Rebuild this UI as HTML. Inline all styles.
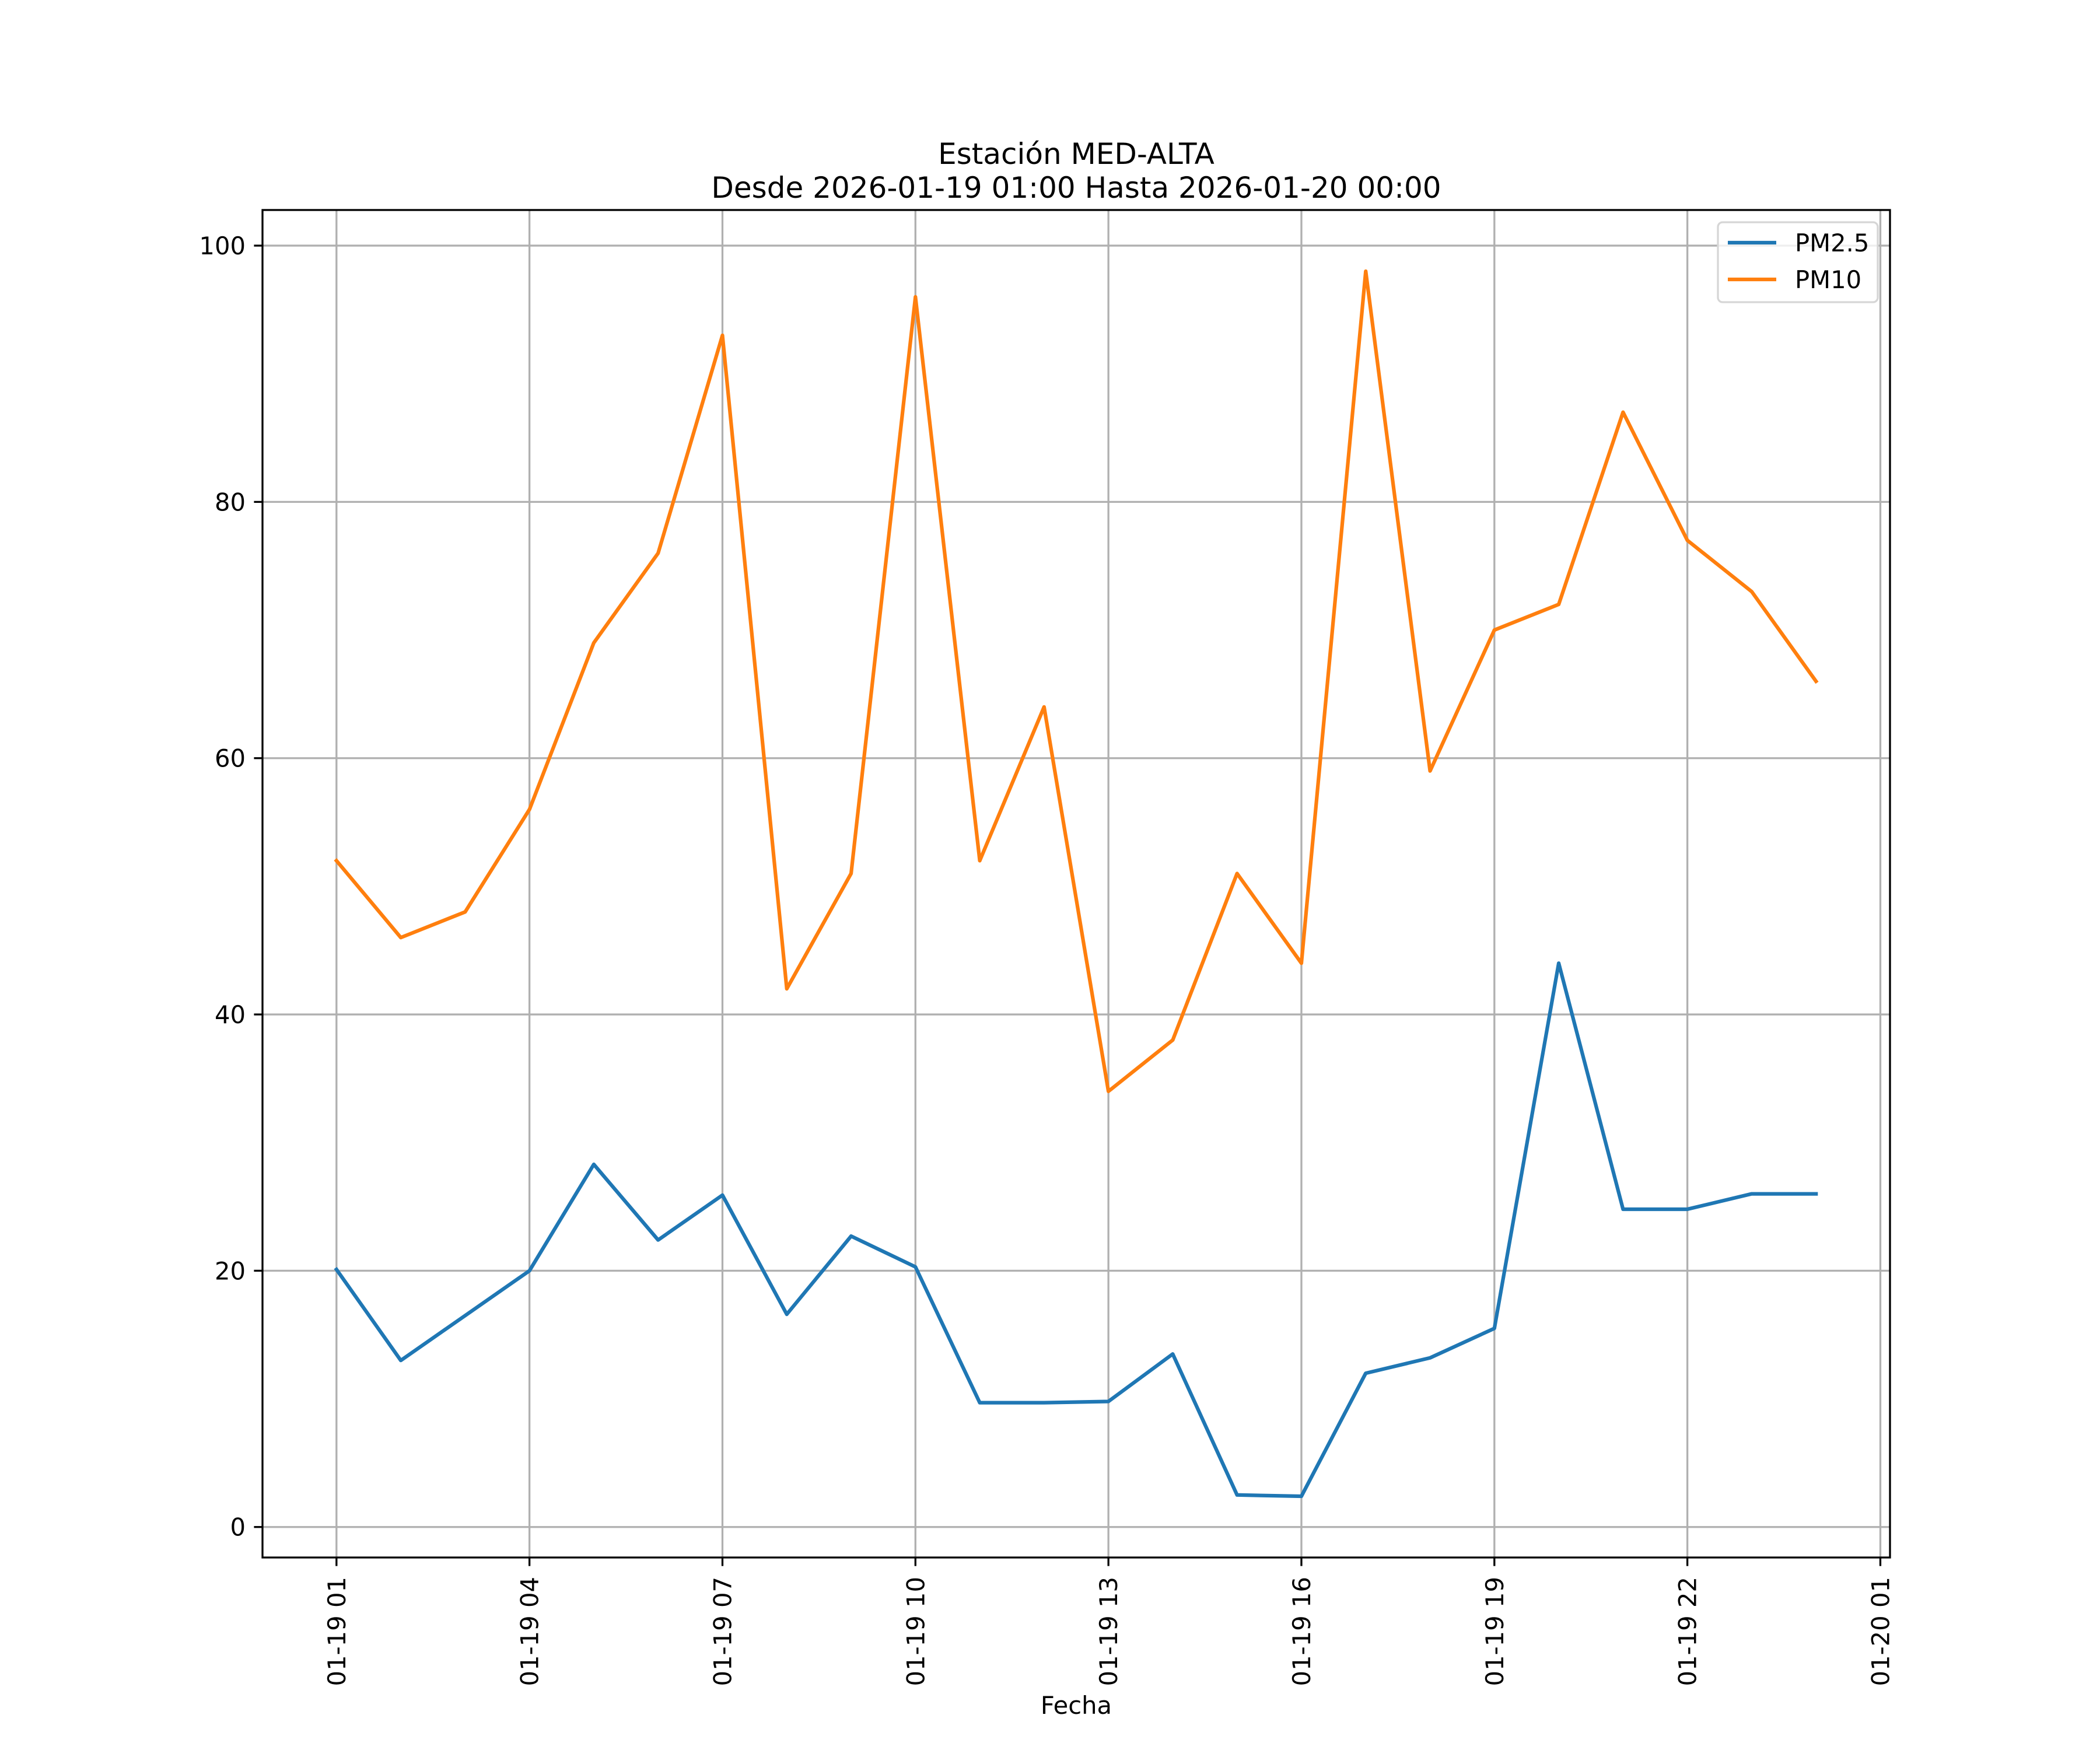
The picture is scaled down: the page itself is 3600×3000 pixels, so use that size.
<!DOCTYPE html>
<html><head><meta charset="utf-8"><style>body{margin:0;background:#fff}svg{display:block;font-family:"DejaVu Sans","Liberation Sans",sans-serif}</style></head>
<body>
<svg id="chart" width="3600" height="3000" xmlns="http://www.w3.org/2000/svg">
<rect width="3600" height="3000" fill="#fff"/>
<g id="grid"></g>
<g id="series"></g>
<rect x="450" y="360" width="2790" height="2310" fill="none" stroke="#000" stroke-width="3.3"/>
<g id="ticks"></g>
<text x="1845" y="281" font-size="50" text-anchor="middle">Estación MED-ALTA</text>
<text x="1845" y="339" font-size="50" text-anchor="middle">Desde 2026-01-19 01:00 Hasta 2026-01-20 00:00</text>
<text x="1845" y="2938" font-size="41.7" text-anchor="middle">Fecha</text>
<g>
<rect x="2945" y="381" width="274" height="137" rx="8" fill="#fff" fill-opacity="0.8" stroke="#d6d6d6" stroke-width="3.3"/>
<line x1="2962" y1="416" x2="3045" y2="416" stroke="#1f77b4" stroke-width="6.25"/>
<text x="3077" y="431" font-size="41.7">PM2.5</text>
<line x1="2962" y1="479" x2="3045" y2="479" stroke="#ff7f0e" stroke-width="6.25"/>
<text x="3077" y="494" font-size="41.7">PM10</text>
</g>
</svg>
<script>
const hours = [1,2,3,4,5,6,7,8,9,10,11,12,13,14,15,16,17,18,19,20,21,22,23,24];
const pm25 = [20.1,13,16.5,20,28.3,22.4,25.9,16.6,22.7,20.3,9.7,9.7,9.8,13.5,2.5,2.4,12,13.2,15.5,44,24.8,24.8,26,26];
const pm10 = [52,46,48,56,69,76,93,42,51,96,52,64,34,38,51,44,98,59,70,72,87,77,73,66];
const xTickHours = [1,4,7,10,13,16,19,22,25];
const xTickLabels = ["01-19 01","01-19 04","01-19 07","01-19 10","01-19 13","01-19 16","01-19 19","01-19 22","01-20 01"];
const yTicks = [0,20,40,60,80,100];

const L=450,R=3240,T=360,B=2670;
const all=pm25.concat(pm10);
const dmin=Math.min(...all),dmax=Math.max(...all),pad=(dmax-dmin)*0.05;
const y0=dmin-pad,y1=dmax+pad;
const hmin=Math.min(...hours),hmax=Math.max(...hours),hp=(hmax-hmin)*0.05;
const x0=hmin-hp,x1=hmax+hp;
const sx=h=>L+(h-x0)/(x1-x0)*(R-L);
const sy=v=>B-(v-y0)/(y1-y0)*(B-T);
const NS='http://www.w3.org/2000/svg';
function mk(tag,attrs,parent){const e=document.createElementNS(NS,tag);for(const k in attrs)e.setAttribute(k,attrs[k]);parent.appendChild(e);return e;}
const grid=document.getElementById('grid'),ticks=document.getElementById('ticks'),series=document.getElementById('series');
yTicks.forEach(v=>{const y=sy(v);
 const g=mk('line',{x1:L,x2:R,y1:y,y2:y,stroke:'#b0b0b0','stroke-width':3.3},grid);
 
 
 const t=mk('line',{x1:L-14.6,x2:L,y1:y,y2:y,stroke:'#000','stroke-width':3.3},ticks);
 
 
 const tx=mk('text',{x:L-29,y:y+15,'font-size':41.7,'text-anchor':'end'},ticks);tx.textContent=v;
 
 
});
xTickHours.forEach((h,i)=>{const x=sx(h);
 const g=mk('line',{x1:x,x2:x,y1:T,y2:B,stroke:'#b0b0b0','stroke-width':3.3},grid);
 
 
 const t=mk('line',{x1:x,x2:x,y1:B,y2:B+14.6,stroke:'#000','stroke-width':3.3},ticks);
 
 
 const tx=mk('text',{x:0,y:0,'font-size':41.7,'text-anchor':'end',transform:`translate(${x+15},${B+33}) rotate(-90)`},ticks);tx.textContent=xTickLabels[i];
 
 
});
function line(vals,color,name){const p=mk('polyline',{points:vals.map((v,i)=>sx(hours[i])+','+sy(v)).join(' '),fill:'none',stroke:color,'stroke-width':6.25,'stroke-linejoin':'round','stroke-linecap':'square'},series);
 
 }
line(pm25,'#1f77b4','pm25-line');
line(pm10,'#ff7f0e','pm10-line');
</script>
</body></html>
